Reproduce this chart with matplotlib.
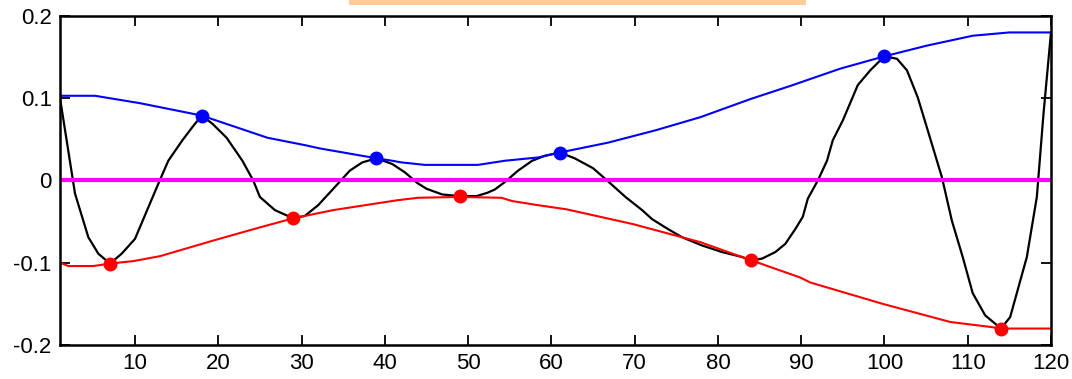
import matplotlib.pyplot as plt
from matplotlib.patches import Rectangle

plt.rcParams["font.family"] = ["Liberation Sans", "DejaVu Sans"]

# signal
sig_x = [1, 2.8, 4.4, 5.6, 7, 8.4, 10, 12.8, 14, 15.7, 16.9, 18, 19.3, 21, 22.9,
         24.2, 25, 26.8, 29, 30.4, 32, 34, 35.8, 37.3, 39, 40.9, 42.4, 43.9, 45,
         46.9, 49, 51, 52.3, 53.2, 54.4, 56, 57.7, 59.2, 61, 62.8, 65, 66.7, 68.9,
         70.9, 72.1, 74, 75.7, 78.1, 80.5, 82.9, 84, 85.3, 86.9, 88.1, 89.3, 90.2,
         90.8, 92, 93.1, 93.8, 95, 96.8, 98.3, 100, 101.5, 102.7, 104, 105.2,
         106.9, 108.1, 109.4, 110.6, 112.1, 114, 115.1, 117.1, 118.3, 119.1, 120]
sig_y = [0.100, -0.016, -0.069, -0.089, -0.101, -0.089, -0.071, -0.004, 0.024,
         0.049, 0.065, 0.079, 0.069, 0.052, 0.024, 0.000, -0.020, -0.036, -0.046,
         -0.043, -0.030, -0.008, 0.012, 0.022, 0.027, 0.020, 0.010, -0.003, -0.010,
         -0.017, -0.019, -0.019, -0.015, -0.011, -0.002, 0.012, 0.024, 0.030, 0.034,
         0.027, 0.015, 0.000, -0.020, -0.036, -0.047, -0.059, -0.069, -0.079,
         -0.087, -0.093, -0.097, -0.095, -0.087, -0.077, -0.059, -0.044, -0.022,
         0.000, 0.024, 0.049, 0.073, 0.116, 0.134, 0.151, 0.148, 0.134, 0.101,
         0.061, 0.004, -0.049, -0.093, -0.137, -0.164, -0.180, -0.166, -0.093,
         -0.020, 0.081, 0.180]

# upper envelope
up_x = [1, 5.2, 10.6, 18, 25.9, 30.4, 32.2, 39, 40.9, 42, 44.8, 51.2, 54.4, 58.4,
        61, 66.8, 72.5, 77.9, 83.9, 88.7, 94.7, 100, 105.1, 110.6, 115, 120]
up_y = [0.103, 0.103, 0.094, 0.079, 0.052, 0.043, 0.039, 0.027, 0.024, 0.022,
        0.019, 0.019, 0.024, 0.028, 0.034, 0.046, 0.061, 0.077, 0.099, 0.115,
        0.136, 0.151, 0.164, 0.176, 0.180, 0.180]

# lower envelope
lo_x = [1, 2, 5, 7, 9.8, 13, 19.4, 25, 29, 33.8, 41.5, 44, 49, 54, 55.3, 58.4,
        61.8, 69.8, 77.9, 84, 89.9, 91.1, 99.8, 107.9, 112.7, 114, 120]
lo_y = [-0.100, -0.104, -0.104, -0.101, -0.098, -0.092, -0.073, -0.057, -0.046,
        -0.036, -0.024, -0.021, -0.020, -0.021, -0.025, -0.030, -0.035, -0.053,
        -0.075, -0.097, -0.118, -0.124, -0.150, -0.172, -0.178, -0.180, -0.180]

# extrema
max_x = [18, 39, 61, 100]
max_y = [0.079, 0.027, 0.034, 0.151]
min_x = [7, 29, 49, 84, 114]
min_y = [-0.101, -0.046, -0.019, -0.097, -0.180]

xticks = [10, 20, 30, 40, 50, 60, 70, 80, 90, 100, 110, 120]
yticks = [-0.2, -0.1, 0, 0.1, 0.2]
ytick_labels = ["-0.2", "-0.1", "0", "0.1", "0.2"]

fig = plt.figure(figsize=(10.72, 3.79), dpi=100)
ax = fig.add_axes([0.056, 0.0897, 0.9244, 0.8681])

ax.plot(sig_x, sig_y, color="black", lw=1.6)
ax.plot(up_x, up_y, color="#0000ff", lw=1.5)
ax.plot(lo_x, lo_y, color="#ff0000", lw=1.5)
ax.axhline(0, color="#ff00ff", lw=3)
ax.plot(max_x, max_y, "o", color="#0000ff", ms=9, zorder=5)
ax.plot(min_x, min_y, "o", color="#ff0000", ms=9, zorder=5)

ax.set_xlim(1, 120)
ax.set_ylim(-0.2, 0.2)
ax.set_xticks(xticks)
ax.set_yticks(yticks)
ax.set_yticklabels(ytick_labels)
ax.tick_params(direction="in", length=7, width=1.3, top=True, right=True,
               labelsize=16, pad=6)
for s in ax.spines.values():
    s.set_linewidth(1.8)

# top banner (cut off in the original)
fig.patches.append(Rectangle((0.3256, 0.987), 0.4263, 0.013, transform=fig.transFigure,
                             facecolor="#ffcc99", edgecolor="none"))

fig.savefig("out.png", dpi=100)
